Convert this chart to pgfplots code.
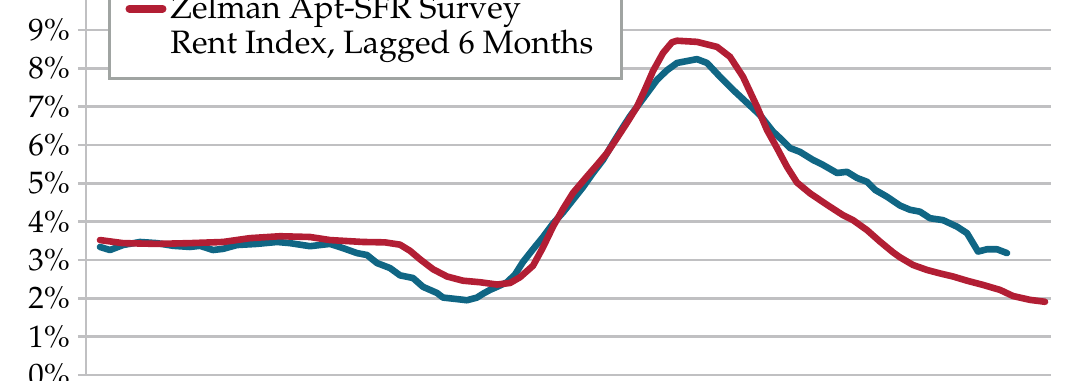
\documentclass[border=0pt]{standalone}
\usepackage[T1]{fontenc}
\usepackage{mathpazo}
\usepackage{pgfplots}
\pgfplotsset{compat=1.18}
\definecolor{teal1}{RGB}{16,102,132}
\definecolor{red1}{RGB}{178,30,52}
\definecolor{grid1}{RGB}{192,192,194}
\definecolor{lgd}{RGB}{160,164,162}
\begin{document}
\begin{tikzpicture}
\useasboundingbox (-43pt,-2.5pt) rectangle (497pt,187.5pt);
\clip (-43pt,-2.5pt) rectangle (497pt,187.5pt);
\begin{axis}[
  scale only axis, width=482.5pt, height=191.67pt,
  xmin=86, xmax=1051, ymin=0, ymax=10,
  axis lines=left,
  axis line style={-, grid1, line width=1.3pt},
  xtick=\empty,
  ytick={0,1,2,3,4,5,6,7,8,9},
  yticklabel={\pgfmathprintnumber{\tick}\%},
  yticklabel style={font=\fontsize{15.5}{18}\selectfont, text=black, xshift=-0.5pt},
  tick align=outside, major tick length=4pt,
  tick style={grid1, line width=1.3pt},
  ymajorgrids, grid style={grid1, line width=1.3pt},
  legend style={at={(axis description cs:0.0228,0.770)}, anchor=south west,
    draw=lgd, line width=1.5pt, fill=white,
    font=\fontsize{16.2}{19}\selectfont, inner xsep=8pt, inner ysep=9pt,
    row sep=0pt},
  legend cell align=left,
  every even column/.append style={column sep=3pt},
  legend image code/.code={\draw[#1, line width=4pt, line cap=round] (0.5pt,0pt) -- (17pt,0pt);},
]
\addplot[teal1, line width=3.3pt, line join=round, line cap=round, forget plot] coordinates {
(100,3.34) (110,3.26) (123,3.39) (140,3.47) (157,3.44) (173,3.37) (190,3.34)
(200,3.37) (213,3.26) (223,3.29) (237,3.39) (257,3.42) (277,3.47) (290,3.44)
(310,3.36) (330,3.42) (343,3.31) (357,3.18) (367,3.13) (377,2.92) (390,2.79)
(400,2.60) (413,2.53) (423,2.30) (437,2.14) (443,2.02) (457,1.98) (467,1.95)
(477,2.02) (483,2.12) (490,2.22) (497,2.30) (507,2.42) (515,2.62) (523,2.95)
(533,3.28) (543,3.60) (553,3.95) (563,4.24) (573,4.57) (583,4.90) (593,5.27)
(603,5.61) (613,6.05) (623,6.47) (630,6.75) (640,7.10) (657,7.70) (667,7.95)
(677,8.14) (697,8.24) (707,8.14) (720,7.78) (733,7.44) (747,7.10) (760,6.78)
(773,6.35) (780,6.18) (790,5.92) (800,5.82) (813,5.61) (823,5.48) (837,5.27)
(847,5.30) (857,5.14) (867,5.04) (875,4.83) (887,4.65) (900,4.42) (910,4.31)
(920,4.26) (930,4.09) (943,4.04) (957,3.87) (967,3.70) (973,3.44) (978,3.22)
(987,3.28) (997,3.28) (1007,3.18)
};
\addplot[red1, line width=3.3pt, line join=round, line cap=round] coordinates {
(100,3.52) (123,3.44) (157,3.42) (190,3.44) (223,3.47) (250,3.57) (280,3.62)
(310,3.60) (330,3.52) (363,3.47) (385,3.46) (400,3.40) (410,3.24) (420,3.02)
(433,2.76) (447,2.57) (463,2.46) (480,2.42) (497,2.36) (510,2.40) (520,2.55)
(533,2.85) (543,3.33) (553,3.87) (563,4.33) (573,4.75) (587,5.18) (597,5.48)
(607,5.79) (617,6.18) (627,6.58) (637,7.00) (645,7.45) (653,7.93) (663,8.40)
(672,8.68) (677,8.72) (697,8.69) (717,8.56) (730,8.30) (743,7.78) (757,7.00)
(767,6.39) (777,5.92) (787,5.43) (797,5.02) (810,4.74) (827,4.44) (843,4.17)
(853,4.04) (867,3.78) (880,3.48) (893,3.20) (900,3.07) (913,2.87) (927,2.74)
(940,2.65) (953,2.57) (967,2.46) (983,2.35) (1000,2.22) (1013,2.06) (1030,1.96)
(1045,1.91)
};
\addlegendentry{Zelman Apt-SFR Survey}
\addlegendimage{empty legend}
\addlegendentry{Rent Index, Lagged 6 Months\hspace*{4pt}}
\end{axis}
\end{tikzpicture}
\end{document}
